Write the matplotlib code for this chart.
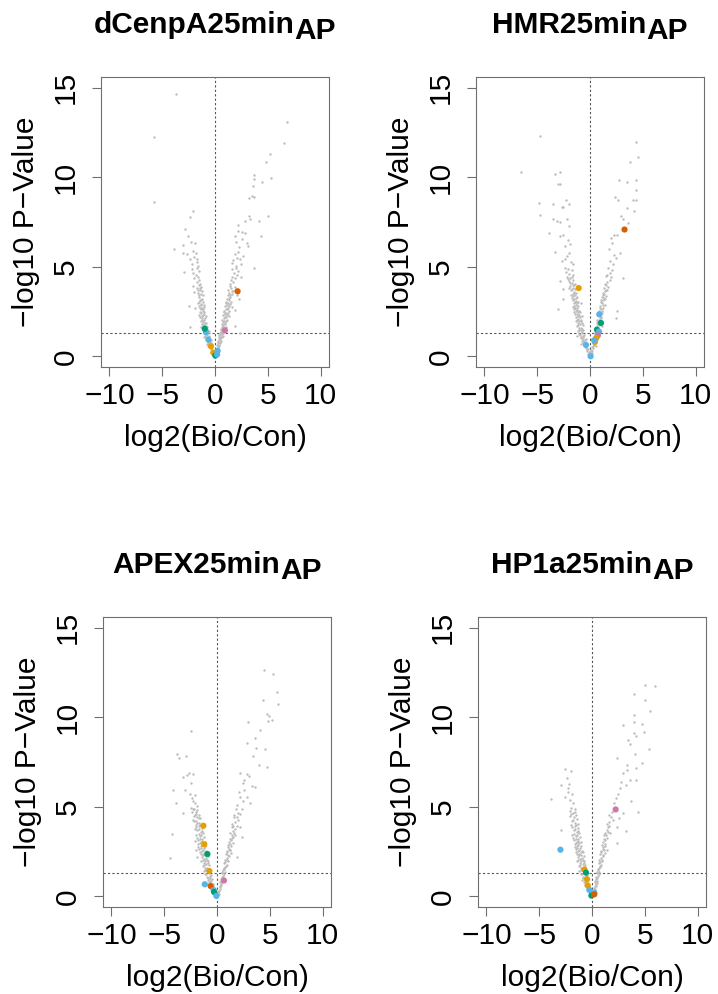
import matplotlib
matplotlib.use("Agg")
import matplotlib.pyplot as plt
import math

plt.rcParams['font.family'] = ['Liberation Sans', 'DejaVu Sans']

titles_main = ["dCenpA25min", "HMR25min", "APEX25min", "HP1a25min"]
title_sub = "AP"
x_label = "log2(Bio/Con)"
y_label = "\u2212log10 P\u2212Value"
x_ticks = [-10, -5, 0, 5, 10]
y_ticks = [0, 5, 10, 15]
p_threshold = 0.05

C_GREEN = "#009E73"
C_BLUE = "#56B4E9"
C_ORANGE = "#E69F00"
C_VERM = "#D55E00"
C_PINK = "#CC79A7"

# ---------------- panel 1: dCenpA ----------------
gray1 = [
    (-0.30,0.35),(-0.22,0.18),(-0.15,0.10),(-0.08,0.05),(0.02,0.02),(0.10,0.08),(0.18,0.14),(0.25,0.22),
    (-0.40,0.42),(0.32,0.40),(-0.27,0.28),(0.05,0.12),(-0.12,0.22),(0.14,0.30),(-0.05,0.15),(0.22,0.35),
    (-0.35,0.48),(0.28,0.48),
    (-0.55,0.55),(-0.45,0.62),(-0.62,0.70),(-0.38,0.75),(-0.70,0.82),(-0.50,0.88),(-0.80,0.95),(-0.58,0.98),
    (0.30,0.55),(0.38,0.65),(0.26,0.72),(0.45,0.80),(0.33,0.88),(0.52,0.95),(0.40,0.98),(-0.66,0.60),
    (-0.74,0.66),(0.20,0.62),
    (-0.85,1.05),(-0.65,1.10),(-0.95,1.15),(-0.75,1.22),(-1.05,1.30),(-0.82,1.35),(-0.60,1.40),(-1.12,1.45),
    (-0.90,1.48),(0.42,1.05),(0.55,1.10),(0.35,1.18),(0.62,1.25),(0.48,1.32),(0.70,1.40),(0.55,1.46),
    (-1.00,1.08),(0.75,1.15),
    (-0.95,1.55),(-1.15,1.60),(-0.78,1.66),(-1.05,1.72),(-1.25,1.80),(-0.88,1.85),(-1.10,1.92),(-1.30,1.98),
    (0.55,1.55),(0.68,1.62),(0.80,1.70),(0.62,1.78),(0.90,1.85),(0.72,1.92),(1.00,1.98),(-1.35,1.62),
    (1.05,1.65),(1.89,1.69),(2.36,1.32),(-2.36,1.65),
    (-1.00,2.05),(-1.20,2.12),(-1.40,2.20),(-0.90,2.25),(-1.15,2.32),(-1.30,2.40),(-1.05,2.46),(-1.55,2.30),
    (0.70,2.05),(0.85,2.12),(1.05,2.20),(0.78,2.28),(0.95,2.36),(1.20,2.42),(0.88,2.48),(1.35,2.25),
    (-1.10,2.55),(-1.35,2.62),(-1.20,2.70),(-1.50,2.78),(-1.00,2.85),(-1.28,2.92),(-1.60,2.98),(-1.85,2.70),
    (0.85,2.55),(1.05,2.62),(1.25,2.70),(0.95,2.78),(1.15,2.86),(1.40,2.92),(1.00,2.98),(1.65,2.75),
    (1.90,2.60),(-2.42,2.81),
    (-1.15,3.05),(-1.40,3.12),(-1.25,3.22),(-1.55,3.30),(-1.10,3.40),(-1.35,3.48),(-1.65,3.55),(-1.20,3.65),
    (-1.45,3.72),(-1.75,3.80),(-1.30,3.88),(-1.55,3.96),(-2.00,3.60),(-2.04,3.92),
    (1.05,3.05),(1.30,3.12),(1.15,3.22),(1.45,3.30),(1.25,3.40),(1.60,3.48),(1.35,3.56),(1.75,3.64),
    (1.20,3.72),(1.50,3.80),(1.85,3.88),(1.40,3.95),(2.10,3.40),(2.30,3.20),
    (-1.40,4.05),(-1.70,4.15),(-1.50,4.25),(-1.95,4.35),(-1.60,4.45),(-1.80,4.55),(-2.05,4.65),(-1.55,4.75),
    (-2.20,4.85),(-1.75,4.95),(-2.95,4.72),
    (1.45,4.05),(1.70,4.15),(1.55,4.25),(1.90,4.35),(1.65,4.45),(2.05,4.55),(1.80,4.65),(2.20,4.75),
    (1.60,4.85),(2.00,4.95),(2.45,4.40),(3.70,4.91),
    (-1.60,5.05),(-2.20,5.13),(-1.70,5.25),(-2.36,5.41),(-1.67,5.41),(-1.95,5.55),(-2.67,5.74),(-3.05,5.78),
    (-1.79,5.78),(-2.10,5.90),(1.57,5.22),(2.36,5.41),(2.67,5.60),(1.75,5.35),(2.05,5.50),(1.85,5.70),
    (2.20,5.85),(1.95,5.05),(2.50,5.15),
    (-2.99,6.21),(-2.26,6.38),(-1.89,6.30),(-2.55,6.71),(-3.90,5.97),(1.98,6.39),(2.99,6.34),(3.08,6.15),
    (2.14,6.99),(2.55,6.93),(2.83,6.90),(4.37,6.71),(2.30,6.10),(2.60,6.55),(1.90,6.70),
    (-2.83,7.12),(-2.39,7.79),(-2.11,8.10),(2.14,7.32),(2.86,7.55),(3.30,7.64),(3.18,7.86),(4.15,7.55),
    (5.06,7.83),(3.24,8.83),(3.50,8.98),(3.71,8.88),(3.62,9.50),(3.65,9.90),(3.68,10.11),(4.43,9.74),
    (5.31,9.98),(4.84,10.84),(5.25,11.30),(6.51,11.90),(6.82,13.10),(-5.82,8.64),(-5.82,12.23),(-3.68,14.67),
    (-0.20,0.30),(-0.33,0.52),(-0.48,0.68),(-0.60,0.78),(-0.42,0.90),(-0.72,1.00),(-0.55,1.15),(-0.88,1.20),
    (-0.70,1.30),(-0.95,1.38),(-0.78,1.50),(-1.02,1.58),(-0.85,1.70),(-1.18,1.75),(-0.98,1.88),(-1.20,2.00),
    (-0.95,2.15),(-1.25,2.25),(-1.08,2.38),(-1.40,2.50),(-1.18,2.62),(-1.42,2.72),(-1.08,2.75),(-1.35,2.85),
    (-1.50,3.05),(-1.28,3.15),(-1.48,3.40),(-1.60,3.70),(-1.40,3.80),
    (0.12,0.25),(0.22,0.45),(0.35,0.58),(0.48,0.72),(0.30,0.82),(0.58,0.88),(0.45,1.00),(0.65,1.08),
    (0.50,1.20),(0.78,1.28),(0.60,1.35),(0.82,1.48),(0.68,1.55),(0.92,1.60),(0.75,1.75),(0.98,1.80),
    (0.85,1.95),(1.10,2.05),(0.92,2.18),(1.15,2.30),(1.00,2.42),(1.28,2.52),(1.10,2.65),(1.35,2.80),
    (1.20,2.95),(1.50,3.05),(1.32,3.25),(1.58,3.65),(1.45,3.45),
]
hl1_x = [-0.85, -0.97, -0.63, -0.38, -0.16, 0.03, 0.25, 0.20, 0.94, 2.14]
hl1_y = [1.35, 1.54, 0.93, 0.56, 0.20, 0.04, 0.30, 0.10, 1.45, 3.63]
hl1_c = [C_BLUE, C_GREEN, C_BLUE, C_ORANGE, C_ORANGE, C_GREEN, C_BLUE, C_BLUE, C_PINK, C_VERM]

# ---------------- panel 2: HMR ----------------
gray2 = [
    (-0.25,0.30),(-0.15,0.15),(-0.05,0.05),(0.05,0.08),(0.15,0.18),(0.22,0.30),(-0.32,0.42),(0.28,0.45),
    (-0.10,0.25),(0.10,0.35),(-0.40,0.48),(0.00,0.20),
    (-0.45,0.55),(-0.60,0.62),(-0.35,0.68),(-0.70,0.75),(-0.50,0.82),(-0.80,0.88),(-0.62,0.95),(-0.42,0.98),
    (0.30,0.55),(0.40,0.65),(0.25,0.75),(0.50,0.85),(0.35,0.95),(-0.90,0.70),(0.58,0.60),
    (-0.70,1.05),(-0.90,1.10),(-0.55,1.18),(-1.00,1.25),(-0.78,1.32),(-1.10,1.40),(-0.62,1.45),(-0.88,1.48),
    (0.38,1.05),(0.52,1.12),(0.45,1.25),(0.65,1.32),(0.55,1.45),(-1.20,1.15),
    (-0.80,1.55),(-1.05,1.60),(-1.25,1.68),(-0.70,1.72),(-0.95,1.80),(-1.15,1.88),(-1.35,1.95),(-0.85,1.98),
    (0.55,1.55),(0.70,1.62),(0.85,1.72),(0.62,1.80),(0.95,1.88),(0.75,1.96),(1.10,1.70),
    (-0.90,2.05),(-1.15,2.10),(-1.35,2.18),(-0.80,2.25),(-1.05,2.30),(-1.25,2.38),(-1.50,2.45),(-0.95,2.48),
    (0.70,2.05),(0.90,2.12),(1.05,2.22),(0.80,2.30),(1.15,2.40),(0.95,2.48),(2.45,2.16),(2.52,2.53),
    (-1.00,2.55),(-1.25,2.60),(-1.45,2.68),(-1.65,2.75),(-1.10,2.82),(-1.35,2.88),(-1.55,2.95),(-0.90,2.98),
    (-2.99,2.62),(0.85,2.55),(1.05,2.62),(1.25,2.70),(0.95,2.80),(1.40,2.88),(1.15,2.96),
    (-1.10,3.05),(-1.30,3.10),(-1.55,3.18),(-1.75,3.25),(-1.20,3.32),(-1.45,3.40),(-1.65,3.46),(-2.52,3.18),
    (1.00,3.05),(1.25,3.12),(1.45,3.22),(1.15,3.30),(1.55,3.38),(1.35,3.46),
    (-1.30,3.55),(-1.55,3.60),(-1.80,3.68),(-1.40,3.75),(-1.65,3.82),(-1.90,3.90),(-2.52,3.74),(-1.50,3.98),
    (1.20,3.55),(1.45,3.62),(1.65,3.72),(1.30,3.80),(1.75,3.88),(1.55,3.96),
    (-1.45,4.05),(-1.75,4.12),(-2.00,4.20),(-1.60,4.28),(-1.85,4.35),(-2.83,4.20),(-2.15,4.45),
    (1.40,4.05),(1.65,4.15),(1.85,4.25),(1.51,4.48),(2.00,4.40),
    (-1.60,4.55),(-1.95,4.62),(-2.25,4.70),(-1.75,4.80),(-2.05,4.88),(-2.35,4.95),
    (1.60,4.55),(1.90,4.65),(2.10,4.80),(1.75,4.92),(3.08,4.39),
    (-1.57,5.13),(-2.67,5.32),(-2.20,5.60),(-1.80,5.25),(-2.40,5.45),(-3.30,5.82),(-1.95,5.75),
    (1.89,5.32),(2.45,5.50),(2.83,5.78),(1.82,5.97),(2.15,5.15),(2.30,5.65),
    (-2.36,6.15),(-1.89,6.25),(-2.83,6.71),(-2.52,6.80),(-3.84,6.86),(-2.10,6.50),
    (1.95,6.62),(2.26,6.75),(2.58,6.80),(2.10,6.30),
    (-1.95,7.30),(-3.52,7.64),(-3.14,7.58),(-2.83,7.49),(-2.20,7.68),(-3.52,8.48),(-2.67,8.35),(-2.52,8.35),
    (-1.95,8.48),(-2.30,8.75),(-3.05,9.65),(-2.83,9.65),(-3.30,10.19),(-2.83,10.32),(-4.78,7.90),(-4.81,8.57),
    (-6.54,10.32),(-4.72,12.32),
    (2.89,7.83),(3.11,7.64),(3.58,7.45),(3.46,8.29),(4.21,8.12),(2.39,8.90),(2.64,8.75),(4.09,8.72),
    (4.40,8.72),(4.34,9.26),(2.70,9.87),(3.52,9.74),(4.40,9.87),(3.77,10.87),(4.59,11.13),(4.34,11.95),
    (-0.22,0.40),(-0.38,0.58),(-0.55,0.70),(-0.68,0.85),(-0.48,0.92),(-0.82,1.00),(-0.62,1.12),(-0.95,1.20),
    (-0.72,1.38),(-1.02,1.45),(-0.90,1.58),(-1.15,1.72),(-0.78,1.85),(-1.05,1.95),(-1.25,2.05),(-0.98,2.20),
    (-1.18,2.25),(-1.40,2.35),(-1.12,2.45),(-1.35,2.55),(-1.55,2.62),(-1.20,2.72),(-1.48,2.80),(-1.25,2.95),
    (-1.45,3.05),(-1.65,3.15),(-1.35,3.25),(-1.58,3.35),(-1.80,3.45),(-1.50,3.55),(-1.72,3.75),(-1.95,3.80),
    (-1.60,4.00),(-1.88,4.10),(-2.10,4.30),(-1.75,4.45),
    (0.12,0.28),(0.22,0.50),(0.35,0.62),(0.45,0.75),(0.30,0.88),(0.55,0.95),(0.42,1.08),(0.60,1.20),
    (0.50,1.35),(0.72,1.45),(0.62,1.58),(0.80,1.80),(0.68,1.90),(0.88,2.00),(1.00,2.15),(0.85,2.40),
    (1.12,2.55),(0.98,2.70),(1.20,2.85),(1.08,3.15),(1.35,3.25),(1.25,3.40),(1.50,3.70),
]
hl2_x = [3.27, -1.07, 0.88, 1.04, 0.66, 0.85, 0.75, 0.60, 0.47, 0.38, -0.38, 0.06]
hl2_y = [7.08, 3.81, 2.34, 1.86, 1.49, 1.38, 1.17, 1.02, 0.80, 0.89, 0.63, 0.00]
hl2_c = [C_VERM, C_ORANGE, C_BLUE, C_GREEN, C_GREEN, C_BLUE, C_PINK, C_ORANGE, C_ORANGE, C_BLUE, C_BLUE, C_BLUE]

# ---------------- panel 3: APEX ----------------
gray3 = [
    (-0.25,0.25),(-0.15,0.12),(-0.05,0.05),(0.05,0.06),(0.15,0.15),(0.22,0.28),(-0.35,0.38),(0.30,0.42),
    (-0.45,0.48),(0.10,0.30),(-0.20,0.40),(0.00,0.15),
    (-0.50,0.55),(-0.65,0.62),(-0.40,0.70),(-0.78,0.78),(-0.55,0.85),(-0.88,0.92),(-0.68,0.98),
    (0.32,0.55),(0.42,0.68),(0.28,0.78),(0.52,0.88),(0.40,0.96),(-0.95,0.70),
    (-0.70,1.05),(-0.95,1.10),(-0.55,1.18),(-1.10,1.25),(-0.80,1.32),(-1.25,1.40),(-0.65,1.45),(-1.00,1.48),
    (0.45,1.05),(0.60,1.15),(0.50,1.28),(0.72,1.38),(0.58,1.48),
    (-0.85,1.55),(-1.10,1.60),(-1.35,1.68),(-0.75,1.72),(-1.00,1.80),(-1.25,1.88),(-1.50,1.95),(-0.90,1.98),
    (0.62,1.55),(0.78,1.65),(0.92,1.75),(0.70,1.85),(1.05,1.95),
    (-0.95,2.05),(-1.20,2.10),(-1.45,2.18),(-0.85,2.25),(-1.10,2.30),(-1.35,2.38),(-1.65,2.45),(-1.00,2.48),
    (-1.85,2.22),(0.80,2.05),(0.95,2.15),(1.15,2.25),(0.88,2.35),(1.30,2.42),(1.86,2.21),
    (-1.05,2.55),(-1.30,2.60),(-1.55,2.68),(-1.80,2.75),(-1.15,2.82),(-1.40,2.88),(-1.65,2.95),(-1.95,2.60),
    (0.95,2.55),(1.15,2.65),(1.23,2.58),(1.35,2.78),(1.05,2.88),(1.50,2.96),
    (-1.15,3.05),(-1.40,3.10),(-1.65,3.18),(-1.90,3.25),(-1.25,3.32),(-1.50,3.40),(-1.75,3.46),(-2.10,3.10),
    (1.10,3.05),(1.30,3.15),(1.54,3.33),(2.33,3.33),(1.45,3.25),(1.70,3.45),
    (-1.30,3.55),(-1.55,3.60),(-1.85,3.68),(-2.10,3.75),(-1.40,3.82),(-1.70,3.90),(-1.95,3.98),(-4.28,3.48),
    (1.25,3.55),(1.50,3.65),(1.75,3.75),(1.40,3.85),(2.17,3.88),(1.90,3.95),
    (-1.45,4.05),(-1.75,4.12),(-2.00,4.20),(-2.30,4.28),(-1.60,4.35),(-1.90,4.42),(-2.20,4.48),
    (1.45,4.05),(1.70,4.15),(1.86,4.44),(2.00,4.25),(1.60,4.40),
    (-1.70,4.55),(-2.00,4.62),(-2.35,4.70),(-3.18,4.63),(-1.85,4.80),(-2.15,4.88),(-2.50,4.95),
    (1.65,4.55),(1.95,4.65),(2.33,4.85),(1.80,4.90),(2.20,4.60),
    (-1.90,5.05),(-2.23,5.33),(-2.55,5.74),(-3.02,5.93),(-3.87,5.22),(-4.18,5.91),(-2.05,5.20),(-2.40,5.50),
    (-2.10,5.65),(1.90,5.10),(2.17,5.56),(2.86,5.56),(3.11,5.19),(2.45,5.30),(2.10,5.80),(2.60,5.95),
    (-2.86,6.77),(-2.61,6.86),(-2.23,6.82),(-3.18,6.67),(-2.45,6.30),(2.48,6.30),(3.36,6.15),(3.58,6.12),
    (2.17,6.90),(2.80,6.82),(3.05,6.71),(2.60,6.50),
    (-3.81,7.94),(-3.62,7.75),(-2.92,7.83),(-2.42,9.22),(3.43,7.83),(3.96,7.36),(4.69,7.23),(2.83,8.57),
    (3.74,8.31),(4.56,8.20),(3.58,8.83),(2.89,9.72),(4.06,9.28),(4.87,9.78),(5.25,9.87),(4.69,10.17),
    (4.97,10.09),(4.37,10.99),(5.75,10.72),(5.69,11.41),(4.47,12.66),(5.35,12.43),(-4.50,2.14),
    (-0.28,0.32),(-0.40,0.55),(-0.58,0.68),(-0.70,0.82),(-0.48,0.95),(-0.85,1.02),(-0.65,1.15),(-1.00,1.22),
    (-0.78,1.38),(-1.12,1.45),(-0.95,1.60),(-1.20,1.72),(-0.88,1.85),(-1.15,1.95),(-1.35,2.02),(-1.05,2.15),
    (-1.28,2.28),(-1.52,2.35),(-1.18,2.45),(-1.42,2.55),(-1.68,2.62),(-1.25,2.72),(-1.52,2.82),(-1.78,2.92),
    (-1.30,2.98),(-1.55,3.05),(-1.80,3.12),(-1.40,3.22),(-1.65,3.35),(-1.95,3.42),(-1.45,3.65),(-1.72,3.78),
    (-2.00,3.85),(-1.60,4.00),(-1.88,4.12),(-2.15,4.22),(-1.75,4.35),(-2.05,4.52),(-1.95,4.72),(-2.25,4.85),
    (0.12,0.25),(0.25,0.50),(0.38,0.62),(0.50,0.78),(0.35,0.88),(0.55,1.00),(0.65,1.22),(0.52,1.38),
    (0.70,1.60),(0.85,1.68),(0.78,1.92),(0.95,2.05),(1.05,2.30),(0.92,2.45),(1.20,2.60),(1.08,2.75),
    (1.25,2.92),(1.20,3.20),(1.40,3.40),(1.60,3.55),(1.55,3.90),
]
hl3_x = [-1.29, -1.20, -0.91, -0.72, -1.16, -0.60, -0.33, -0.28, -0.06, 0.66]
hl3_y = [3.94, 2.90, 2.36, 1.41, 0.67, 0.57, 0.35, 0.24, 0.02, 0.88]
hl3_c = [C_ORANGE, C_ORANGE, C_GREEN, C_ORANGE, C_BLUE, C_VERM, C_BLUE, C_GREEN, C_BLUE, C_PINK]

# ---------------- panel 4: HP1a ----------------
gray4 = [
    (-0.25,0.28),(-0.15,0.12),(-0.05,0.05),(0.05,0.06),(0.12,0.15),(0.20,0.28),(-0.35,0.40),(0.28,0.42),
    (-0.45,0.48),(0.08,0.30),(-0.18,0.38),(0.00,0.18),
    (-0.50,0.55),(-0.65,0.62),(-0.40,0.70),(-0.80,0.78),(-0.55,0.85),(-0.92,0.92),(-0.70,0.98),
    (0.30,0.55),(0.40,0.68),(0.25,0.78),(0.50,0.88),(0.38,0.96),(-0.30,0.60),
    (-0.65,1.05),(-0.90,1.10),(-0.50,1.18),(-1.05,1.25),(-0.78,1.32),(-1.20,1.40),(-0.60,1.45),(-0.95,1.48),
    (0.42,1.05),(0.58,1.15),(0.48,1.28),(0.70,1.38),(0.55,1.48),
    (-0.75,1.55),(-1.00,1.60),(-1.25,1.68),(-0.65,1.72),(-0.90,1.80),(-1.15,1.88),(-1.40,1.95),(-0.80,1.98),
    (0.55,1.55),(0.72,1.65),(0.85,1.75),(0.62,1.85),(0.95,1.95),
    (-0.85,2.05),(-1.10,2.10),(-1.35,2.18),(-0.75,2.25),(-1.00,2.30),(-1.25,2.38),(-1.55,2.45),(-0.90,2.48),
    (0.70,2.05),(0.85,2.15),(1.05,2.25),(0.80,2.35),(1.20,2.42),
    (-0.95,2.55),(-1.20,2.60),(-1.45,2.68),(-1.65,2.75),(-1.05,2.82),(-1.30,2.88),(-1.55,2.95),
    (0.85,2.55),(1.05,2.65),(1.45,2.58),(1.25,2.78),(0.95,2.88),(2.33,2.96),
    (-1.05,3.05),(-1.30,3.10),(-1.55,3.18),(-1.80,3.25),(-1.15,3.32),(-1.40,3.40),(-1.70,3.46),
    (1.00,3.05),(1.20,3.15),(1.40,3.28),(1.70,3.51),(1.15,3.40),
    (-1.20,3.55),(-1.45,3.60),(-1.75,3.68),(-2.96,3.70),(-1.30,3.82),(-1.60,3.90),(-1.95,3.98),
    (1.25,3.55),(1.45,3.70),(3.21,3.64),(2.33,3.88),(1.60,3.95),
    (-1.35,4.05),(-1.65,4.12),(-1.90,4.20),(-1.45,4.30),(-1.75,4.40),(-2.05,4.48),
    (1.40,4.05),(1.65,4.15),(2.01,4.26),(2.58,4.35),(1.80,4.45),
    (-1.50,4.55),(-1.80,4.65),(-2.10,4.75),(-1.60,4.85),(-1.95,4.95),
    (1.60,4.55),(2.89,4.67),(4.37,4.72),(1.85,4.70),(2.10,4.90),
    (-1.76,5.19),(-2.08,5.37),(-2.55,5.56),(-3.90,5.41),(-2.23,6.02),(-1.90,5.70),(-2.30,5.85),
    (3.74,5.32),(2.48,5.71),(2.64,6.02),(2.10,5.20),(2.30,5.50),
    (-2.96,6.21),(-2.14,6.26),(-1.95,7.01),(-2.58,7.12),(-2.40,6.60),(3.21,6.21),(3.58,6.49),(4.15,6.49),
    (2.96,6.86),(2.70,6.40),
    (3.33,7.08),(4.21,7.19),(3.27,7.36),(4.78,7.45),(2.33,7.75),(4.06,7.97),(5.41,8.25),(3.58,8.53),
    (3.40,8.75),(4.15,8.94),(3.96,9.13),(4.97,9.18),(4.78,9.65),(3.96,9.74),(2.96,9.59),(3.96,10.11),
    (5.53,10.35),(5.03,10.95),(3.96,11.32),(5.03,11.82),(5.97,11.77),
    (-0.28,0.35),(-0.40,0.55),(-0.58,0.70),(-0.68,0.82),(-0.45,0.95),(-0.82,1.02),(-0.60,1.15),(-0.95,1.22),
    (-0.72,1.38),(-1.08,1.45),(-0.88,1.60),(-1.12,1.72),(-0.80,1.85),(-1.05,1.95),(-1.28,2.02),(-0.98,2.15),
    (-1.20,2.28),(-1.42,2.35),(-1.08,2.45),(-1.32,2.55),(-1.55,2.62),(-1.15,2.72),(-1.42,2.82),(-1.65,2.92),
    (-1.22,2.98),(-1.45,3.05),(-1.68,3.12),(-1.30,3.22),(-1.55,3.35),(-1.85,3.42),(-1.35,3.65),(-1.62,3.78),
    (-1.85,3.85),(-1.50,4.00),(-1.78,4.28),(-1.95,4.60),(-1.65,4.70),
    (0.12,0.22),(0.22,0.45),(0.35,0.60),(0.45,0.75),(0.30,0.85),(0.52,1.00),(0.62,1.22),(0.50,1.38),
    (0.65,1.60),(0.80,1.68),(0.72,1.92),(0.92,2.05),(1.00,2.30),(0.88,2.45),(1.15,2.60),(1.02,2.75),
    (1.20,2.92),(1.12,3.20),(1.35,3.40),(1.50,3.60),(1.55,3.85),
]
hl4_x = [-2.99, 2.24, -0.72, -0.57, -0.47, -0.41, -0.25, 0.22, -0.06, 0.22]
hl4_y = [2.60, 4.85, 1.50, 1.32, 0.95, 0.61, 0.35, 0.20, 0.04, 0.11]
hl4_c = [C_BLUE, C_PINK, C_ORANGE, C_GREEN, C_ORANGE, C_ORANGE, C_BLUE, C_BLUE, C_GREEN, C_VERM]

panels = [
    (gray1, hl1_x, hl1_y, hl1_c),
    (gray2, hl2_x, hl2_y, hl2_c),
    (gray3, hl3_x, hl3_y, hl3_c),
    (gray4, hl4_x, hl4_y, hl4_c),
]

W, H = 718, 994
fig = plt.figure(figsize=(W / 100, H / 100), dpi=100)

# axes boxes in pixels (left, top, right, bottom)
boxes = [(101, 77, 329, 367), (476, 77, 704, 367), (103, 617, 331, 907), (478, 617, 706, 907)]
title_baseline = [33, 33, 573, 573]

FS = 21.5
BOXC = "#6f6f6f"
thr = -math.log10(p_threshold)

for i, ((l, t, r, b), (gray, hx, hy, hc)) in enumerate(zip(boxes, panels)):
    ax = fig.add_axes([l / W, (H - b) / H, (r - l) / W, (b - t) / H])
    gx = [p[0] for p in gray]
    gy = [p[1] for p in gray]
    ax.scatter(gx, gy, s=3.0, color="#bdbdbd", linewidths=0, zorder=2)
    ax.axvline(0, color="#555555", lw=0.8, ls=(0, (2, 2)), zorder=1)
    ax.axhline(thr, color="#555555", lw=0.8, ls=(0, (2, 2)), zorder=1)
    ax.scatter(hx, hy, s=20, c=hc, linewidths=0, zorder=3)
    ax.set_xlim(-10.8, 10.8)
    ax.set_ylim(-0.6, 15.6)
    ax.set_xticks(x_ticks)
    ax.set_xticklabels([("\u2212%d" % -v) if v < 0 else "%d" % v for v in x_ticks])
    ax.set_yticks(y_ticks)
    ax.set_yticklabels([str(v) for v in y_ticks], rotation=90, va="center")
    for sp in ax.spines.values():
        sp.set_color(BOXC)
        sp.set_linewidth(0.8)
    ax.tick_params(axis="both", length=6.5, width=0.8, color=BOXC, labelsize=FS, labelcolor="black")
    ax.tick_params(axis="x", pad=4)
    ax.tick_params(axis="y", pad=9)
    ax.text(0.5, -0.245, x_label, transform=ax.transAxes, ha="center", va="center", fontsize=FS)
    ax.text(-0.33, 0.5, y_label, transform=ax.transAxes, ha="center", va="center", fontsize=FS, rotation=90)

fig.canvas.draw()
renderer = fig.canvas.get_renderer()
for i, (l, t, r, b) in enumerate(boxes):
    t1 = fig.text(0, 0, titles_main[i], fontsize=FS, fontweight="bold", va="baseline", ha="left")
    t2 = fig.text(0, 0, title_sub, fontsize=FS, fontweight="bold", va="baseline", ha="left")
    w1 = t1.get_window_extent(renderer).width
    w2 = t2.get_window_extent(renderer).width
    cx = (l + r) / 2
    x0 = cx - (w1 + w2) / 2
    yb = title_baseline[i]
    t1.set_position((x0 / W, (H - yb) / H))
    t2.set_position(((x0 + w1) / W, (H - yb - 6) / H))

fig.savefig("out.png", dpi=100)
